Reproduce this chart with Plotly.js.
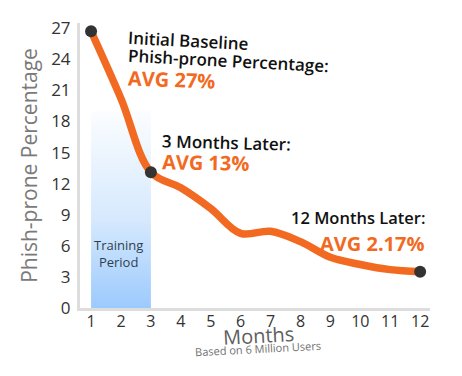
<!DOCTYPE html>
<html><head><meta charset="utf-8">
<script src="https://cdn.plot.ly/plotly-3.0.1.min.js"></script>
<style>html,body{margin:0;padding:0;background:#fff;}#chart{width:462px;height:376px;}</style>
</head><body><div id="chart"></div>
<script>
const months = [1,2,3,4,5,6,7,8,9,10,11,12];
const phishProne = [26.7,20.2,13.1,11.6,9.6,7.2,7.4,6.4,4.9,4.2,3.7,3.5];
const keyMonths = [1,3,12];
const keyValues = [26.7,13.1,3.5];
const trainingMonths = [1,3];
const trainingTop = 19;
const yTicks = [0,3,6,9,12,15,18,21,24,27];

const orange = '#f26a22';
const font = 'Open Sans, sans-serif';

const traces = [
  {
    x: [trainingMonths[0], trainingMonths[1], trainingMonths[1], trainingMonths[0], trainingMonths[0]],
    y: [0, 0, trainingTop, trainingTop, 0],
    mode: 'lines', line: {width: 0}, fill: 'toself',
    fillgradient: {type: 'vertical', start: 0, stop: trainingTop,
      colorscale: [[0, '#9ccafd'], [0.45, '#d6e9fd'], [1, '#fbfdff']]},
    hoverinfo: 'skip', showlegend: false
  },
  {
    x: months, y: phishProne, mode: 'lines',
    line: {color: orange, width: 7.5, shape: 'spline', smoothing: 1},
    showlegend: false
  },
  {
    x: keyMonths, y: keyValues, mode: 'markers',
    marker: {color: '#333333', size: 12},
    showlegend: false
  }
];

const ann = (text, x, y, xa, size, color, angle, weight) => ({
  text: text, xref: 'paper', yref: 'paper', x: x, y: y,
  xanchor: xa, yanchor: 'middle', showarrow: false, textangle: angle,
  font: {family: font, size: size, color: color, weight: weight}
});

const layout = {
  width: 462, height: 376,
  margin: {l: 80, r: 32, t: 23, b: 68},
  paper_bgcolor: '#fff', plot_bgcolor: '#fff',
  xaxis: {
    range: [0.63, 12.33], tickvals: months, showgrid: false, zeroline: false,
    showline: true, linecolor: '#dddddd', linewidth: 3,
    ticks: '', ticklen: 0, ticklabelstandoff: -3,
    tickfont: {family: font, size: 16, color: '#333'}
  },
  yaxis: {
    range: [0, 27.5], tickvals: yTicks, showgrid: false, zeroline: false,
    showline: true, linecolor: '#dddddd', linewidth: 3,
    ticks: '', ticklen: 0, ticklabelstandoff: 3,
    tickfont: {family: font, size: 17, color: '#333'},
    title: {text: 'Phish-prone Percentage', font: {family: font, size: 21, color: '#7a7a7a'}, standoff: 8}
  },
  annotations: [
    ann('Initial Baseline', 0.131, 0.940, 'left', 17, '#111', 3, 600),
    ann('Phish-prone Percentage:', 0.131, 0.870, 'left', 17, '#111', 3, 600),
    ann('AVG 27%', 0.131, 0.802, 'left', 20, orange, 2, 700),
    ann('3 Months Later:', 0.229, 0.582, 'left', 17, '#111', 1.5, 600),
    ann('AVG 13%', 0.229, 0.510, 'left', 20, orange, 1, 700),
    ann('12 Months Later:', 0.991, 0.316, 'right', 16.5, '#111', 0, 600),
    ann('AVG 2.17%', 0.991, 0.228, 'right', 20, orange, 0, 700),
    ann('Training<br>Period', 0.111, 0.19, 'center', 13, '#2f3f50', 0, 400),
    ann('Months', 0.509, -0.095, 'center', 20, '#5f5f5f', -3, 400),
    ann('Based on 6 Million Users', 0.509, -0.143, 'center', 11, '#707070', -3, 400)
  ]
};

Plotly.newPlot('chart', traces, layout, {displayModeBar: false, staticPlot: true});
</script></body></html>
